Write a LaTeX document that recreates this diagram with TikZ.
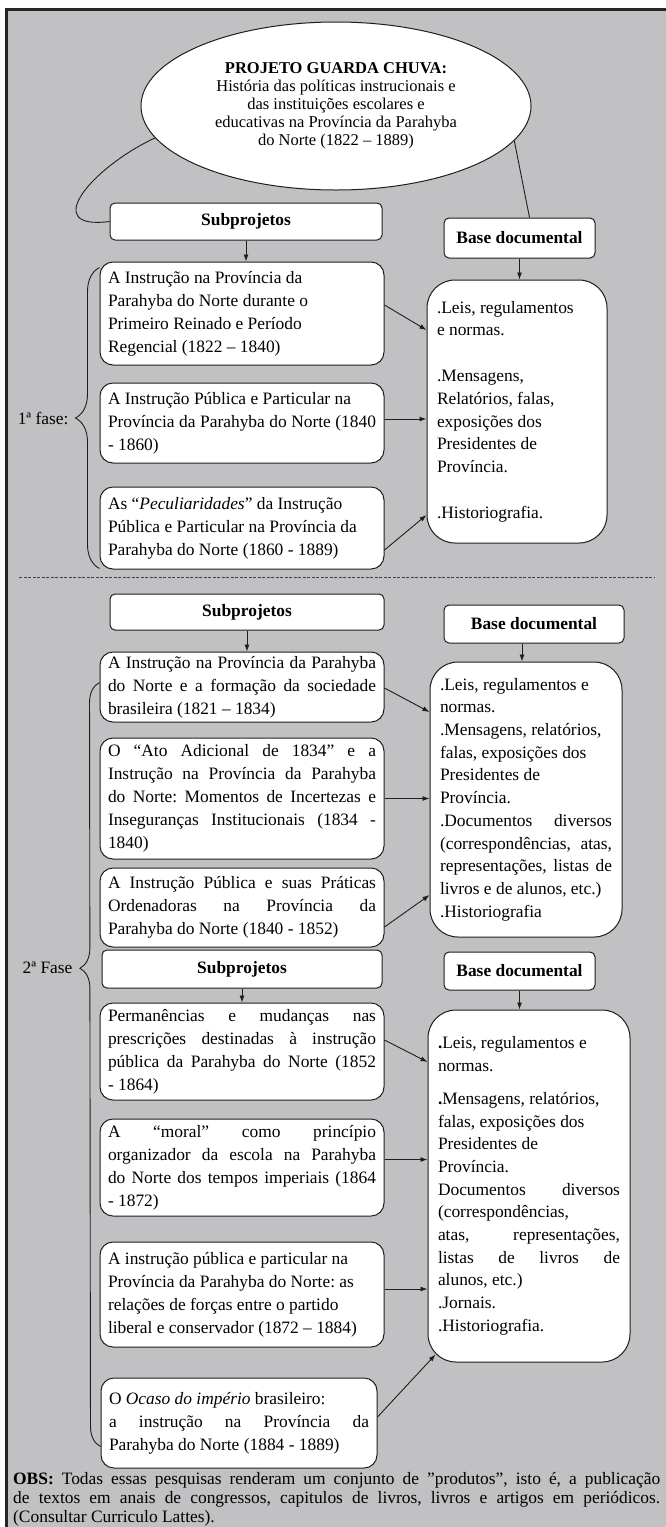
\documentclass[tikz,border=0pt]{standalone}
\usepackage{fontspec}
\setmainfont{Liberation Serif}
\usetikzlibrary{shapes.geometric,positioning,arrows.meta,decorations.pathreplacing}

\definecolor{panel}{RGB}{193,193,195}
\definecolor{edge}{RGB}{30,30,30}
\newcommand{\jl}[2][268pt]{\makebox[#1][s]{\spaceskip=0pt\xspaceskip=0pt #2}}
\frenchspacing

\begin{document}
\begin{tikzpicture}[
  x=1pt, y=-1pt,
  umbrella/.style={ellipse, draw=edge, fill=white, line width=1pt, minimum width=390pt, minimum height=168pt, inner sep=0pt, align=center, font=\fontsize{16.5}{18}\selectfont},
  head/.style={rectangle, rounded corners=5pt, draw=edge, fill=white, line width=1pt, minimum height=37pt, font=\fontsize{17.4}{21}\selectfont\bfseries},
  topic/.style={rectangle, rounded corners=13pt, draw=edge, fill=white, line width=1pt, text width=268pt, inner xsep=8pt, align=flush left, font=\fontsize{17.4}{23}\selectfont},
  sources/.style={rectangle, rounded corners=28pt, draw=edge, fill=white, line width=1pt, inner xsep=10pt, align=flush left, font=\fontsize{17.4}{22.7}\selectfont},
  arrow/.style={-{Latex[length=7pt,width=5pt]}, line width=0.9pt, draw=edge},
  link/.style={line width=0.9pt, draw=edge},
  fasebrace/.style={decorate, line width=0.9pt, draw=edge},
  phase/.style={font=\fontsize{17.4}{21}\selectfont, anchor=east},
  sep/.style={dash pattern=on 3pt off 1.5pt, line width=1pt, draw=black!75},
]

% === Frame ===
\useasboundingbox (0,0) rectangle (666,1527);
\fill[panel] (6,9) rectangle (666,1527);
\draw[line width=3pt, black!85] (6,1527) -- (6,9) -- (667,9);

% === Umbrella project ===
\node[umbrella] (proj) at (336,106) {\textbf{PROJETO GUARDA CHUVA:}\\História das políticas instrucionais e\\das instituições escolares e\\educativas na Província da Parahyba\\do Norte (1822 – 1889)};

% === 1a fase ===
\node[head, minimum width=272pt] (sub1) at (246,221.5) {Subprojetos};
\node[head, minimum width=151pt, minimum height=40pt] (base1) at (519.5,238) {Base documental};

\node[topic, minimum height=103pt] (a1) at (242,313.5) {A Instrução na Província da\\Parahyba do Norte durante o\\Primeiro Reinado e Período\\Regencial (1822 – 1840)};
\node[topic, minimum height=80pt, below=17pt of a1] (a2) {A Instrução Pública e Particular na\\\jl{Província da Parahyba do Norte (1840}\\- 1860)};
\node[topic, minimum height=82pt, below=23pt of a2] (a3) {As “\textit{Peculiaridades}” da Instrução\\Pública e Particular na Província da\\Parahyba do Norte (1860 - 1889)};

\node[sources, text width=160pt, minimum height=263pt] (b1) at (517,411.5) {.Leis, regulamentos\\e normas.\\[23pt].Mensagens,\\Relatórios, falas,\\exposições dos\\Presidentes de\\Província.\\[23pt].Historiografia.};

\draw[link] (proj.190) .. controls +(-64,30) and +(-70,9) .. (sub1.west);
\draw[link] (proj.-11) -- ([xshift=10pt]base1.north);
\draw[arrow] (sub1.south) -- (sub1.south |- a1.north);
\draw[arrow] (base1.south) -- (base1.south |- b1.north);
\draw[arrow] ([yshift=8.5pt]a1.east) -- ([yshift=81.5pt]b1.west);
\draw[arrow] ([yshift=4pt]a2.east) -- ([yshift=4pt]a2.east -| b1.west);
\draw[arrow] ([yshift=-22pt]a3.east) -- ([yshift=-103.5pt]b1.west);

\draw[fasebrace, decoration={brace, amplitude=24pt}] ([yshift=1pt]a3.south west) -- ([yshift=-6pt]a1.north west);
\node[phase] (fase1) at (72,418) {1ª fase:};

% === Separator ===
\coordinate (sepL) at (19,577);
\coordinate (sepR) at (654,577);
\draw[sep] (sepL) -- (sepR);

% === 2a fase, first block ===
\node[head, minimum width=274pt, minimum height=36pt] (sub2) at (247,612) {Subprojetos};
\node[head, minimum width=180pt, minimum height=38pt] (base2) at (534,624) {Base documental};

\node[topic, minimum height=70pt] (a4) at (242,687) {\jl{A Instrução na Província da Parahyba}\\\jl{do Norte e a formação da sociedade}\\brasileira (1821 – 1834)};
\node[topic, minimum height=121pt, below=15pt of a4] (a5) {\jl{O “Ato Adicional de 1834” e a}\\\jl{Instrução na Província da Parahyba}\\\jl{do Norte: Momentos de Incertezas e}\\\jl{Inseguranças Institucionais (1834 -}\\1840)};
\node[topic, minimum height=79pt, below=8pt of a5] (a6) {\jl{A Instrução Pública e suas Práticas}\\\jl{Ordenadoras na Província da}\\Parahyba do Norte (1840 - 1852)};

\node[sources, text width=172pt, minimum height=275pt] (b2) at (526,799.5) {.Leis, regulamentos e\\normas.\\.Mensagens, relatórios,\\falas, exposições dos\\Presidentes de\\Província.\\\jl[172pt]{.Documentos diversos}\\\jl[172pt]{(correspondências, atas,}\\\jl[172pt]{representações, listas de}\\livros e de alunos, etc.)\\.Historiografia};

\draw[arrow] (sub2.south) -- (sub2.south |- a4.north);
\draw[arrow] ([xshift=-12pt]base2.south) -- ([xshift=-12pt]base2.south |- b2.north);
\draw[arrow] ([yshift=-1pt]a4.east) -- ([yshift=87.5pt]b2.west);
\draw[arrow] (a5.east) -- (a5.east -| b2.west);
\draw[arrow] ([yshift=-19.5pt]a6.east) -- ([yshift=-95.5pt]b2.west);

% === 2a fase, second block ===
\node[head, minimum width=280pt, minimum height=38pt] (sub3) at (242,969) {Subprojetos};
\node[head, minimum width=151pt, minimum height=38pt] (base3) at (519.5,971) {Base documental};

\node[topic, minimum height=97pt] (a7) at (242,1051.5) {\jl{Permanências e mudanças nas}\\\jl{prescrições destinadas à instrução}\\\jl{pública da Parahyba do Norte (1852}\\- 1864)};
\node[topic, minimum height=97pt, below=18pt of a7] (a8) {\jl{A “moral” como princípio}\\\jl{organizador da escola na Parahyba}\\\jl{do Norte dos tempos imperiais (1864}\\- 1872)};
\node[topic, minimum height=105pt, below=25pt of a8] (a9) {A instrução pública e particular na\\Província da Parahyba do Norte: as\\relações de forças entre o partido\\liberal e conservador (1872 – 1884)};
\node[topic, text width=260pt, minimum height=90pt] (a10) at (239,1423) {O \textit{Ocaso do império} brasileiro:\\\jl[260pt]{a instrução na Província da}\\Parahyba do Norte (1884 - 1889)};

\node[sources, text width=182pt, minimum height=352pt] (b3) at (529,1186) {\textbf{.}Leis, regulamentos e\\normas.\\[10pt]\textbf{.}Mensagens, relatórios,\\falas, exposições dos\\Presidentes de\\Província.\\\jl[182pt]{Documentos diversos}\\(correspondências,\\\jl[182pt]{atas, representações,}\\\jl[182pt]{listas de livros de}\\alunos, etc.)\\.Jornais.\\.Historiografia.};

\draw[arrow] (sub3.south) -- (sub3.south |- a7.north);
\draw[arrow] (base3.south) -- (base3.south |- b3.north);
\draw[arrow] ([yshift=11.5pt]a7.east) -- ([yshift=124pt]b3.west);
\draw[arrow] ([yshift=8pt]a8.east) -- ([yshift=8pt]a8.east -| b3.west);
\draw[arrow] ([yshift=5.5pt]a9.east) -- ([yshift=5.5pt]a9.east -| b3.west);
\draw[arrow] ([yshift=6pt]a10.east) -- ([xshift=8pt,yshift=8pt]b3.south west);

\draw[fasebrace, decoration={brace, amplitude=20pt, aspect=0.626}] ([yshift=22pt]a10.south west) -- ([yshift=-31pt]a4.north west);
\node[phase] (fase2) at (76,968) {2ª Fase};

% === Note ===
\node[anchor=north west, inner sep=0pt, text width=647pt, align=flush left, font=\fontsize{17.4}{19}\selectfont] (obs) at (13,1472) {\jl[647pt]{\textbf{OBS:} Todas essas pesquisas renderam um conjunto de ''produtos'', isto é, a publicação}\\\jl[647pt]{de textos em anais de congressos, capitulos de livros, livros e artigos em periódicos.}\\(Consultar Curriculo Lattes).};

\end{tikzpicture}
\end{document}
